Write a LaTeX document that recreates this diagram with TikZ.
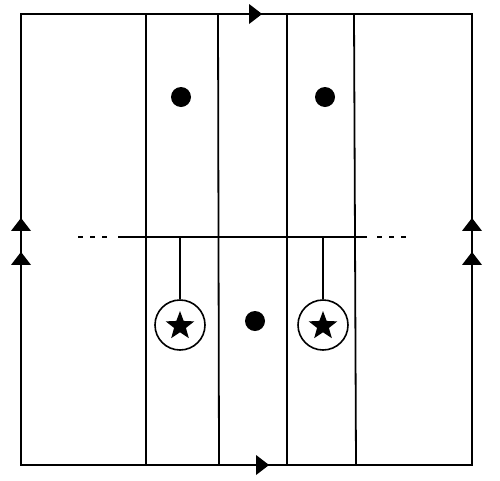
\documentclass[tikz,border=0pt]{standalone}
\usetikzlibrary{shapes.geometric}
\begin{document}
\begin{tikzpicture}[x=1pt,y=-1pt,line width=1.8pt,
  tri/.style={fill=black,draw=none,isosceles triangle,isosceles triangle stretches,inner sep=0pt,minimum height=13pt,minimum width=20pt},
  blob/.style={circle,fill=black,draw=none,inner sep=0pt,minimum size=20pt},
  ring/.style={circle,draw,line width=1.6pt,inner sep=0pt,minimum size=50pt},
  starmark/.style={star,star points=5,star point ratio=2.4,fill=black,draw=none,inner sep=0pt,minimum size=30pt},
  wire/.style={line width=1.8pt}]
\useasboundingbox (0,0) rectangle (500,480);
% corners
\coordinate (tl) at (21,14);
\coordinate (tr) at (472,14);
\coordinate (bl) at (21,465);
\coordinate (br) at (472,465);
\draw[wire] (tl) -- (tr) -- (br) -- (bl) -- cycle;
% vertical strips
\foreach \xa/\xb/\n in {146/146/a,218/219/b,287/287/c,354/356/d}{
  \coordinate (t\n) at (\xa,14);
  \coordinate (b\n) at (\xb,465);
  \draw[wire] (t\n) -- (b\n);
}
% horizontal line
\coordinate (hl) at (118,237);
\coordinate (hr) at (367,237);
\draw[wire] (hl) -- (hr);
\coordinate (dl1) at (78,237);
\coordinate (dl2) at (108,237);
\draw[wire,dash pattern=on 5pt off 7pt] (dl1) -- (dl2);
\coordinate (dr1) at (377,237);
\coordinate (dr2) at (408,237);
\draw[wire,dash pattern=on 5pt off 7pt] (dr1) -- (dr2);
% dots
\node[blob] (d1) at (181,97) {};
\node[blob] (d2) at (325,97) {};
\node[blob] (d3) at (255,321) {};
% circles with stars
\node[ring] (c1) at (180,325) {};
\node[starmark] (s1) at (180,326) {};
\node[ring] (c2) at (323,325) {};
\node[starmark] (s2) at (323,326) {};
\coordinate (st1) at (180,237);
\coordinate (st2) at (323,237);
\draw[wire] (st1) -- (c1.north);
\draw[wire] (st2) -- (c2.north);
% arrowheads
\node[tri,rotate=0] (at) at (254,14) {};
\node[tri,rotate=0] (ab) at (261,465) {};
\node[tri,rotate=90] (al1) at (21,226) {};
\node[tri,rotate=90] (al2) at (21,260) {};
\node[tri,rotate=90] (ar1) at (472,226) {};
\node[tri,rotate=90] (ar2) at (472,260) {};
\end{tikzpicture}
\end{document}
